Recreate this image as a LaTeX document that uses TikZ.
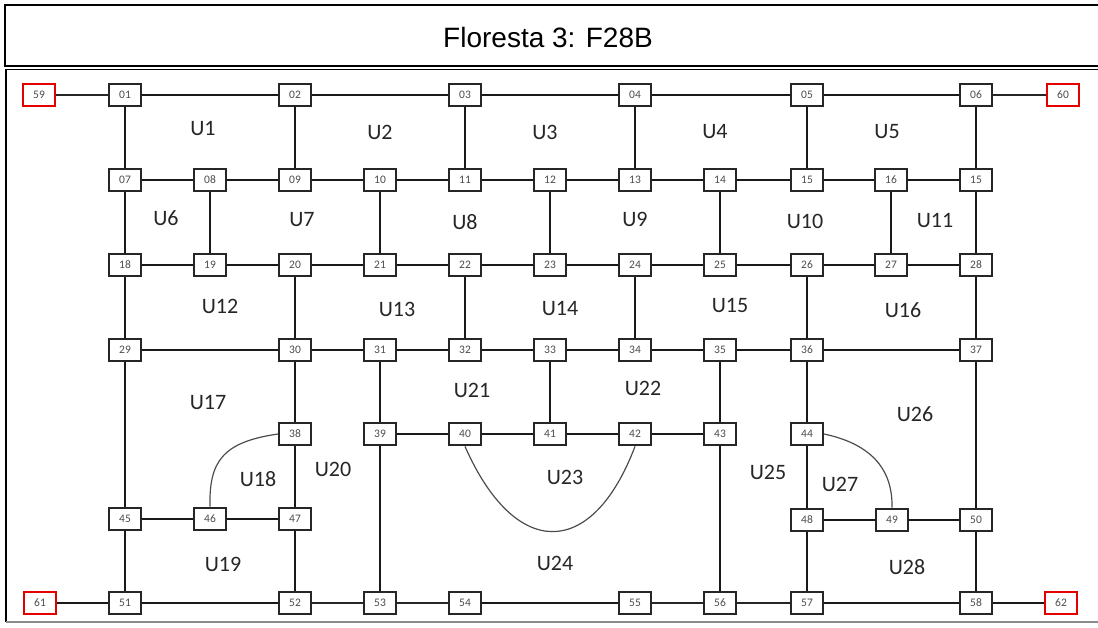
\documentclass[tikz,border=0pt]{standalone}
\usepackage{fontspec}
\setmainfont{Carlito}
\newfontfamily\arialf{Liberation Sans}
\begin{document}
\begin{tikzpicture}[x=1pt,y=-1pt,
  box/.style={draw=black!85,line width=2.3pt,fill=white,minimum width=31.5pt,minimum height=22.5pt,inner sep=0pt,font=\fontsize{11.5}{11.5}\selectfont,text=black!70},
  redbox/.style={box,draw=red!90!black,line width=2pt},
  link/.style={line width=1.9pt,draw=black!90},
  heavylink/.style={line width=2.8pt,draw=black!85},
  arcline/.style={line width=1.2pt,draw=black!70},
  ulab/.style={font=\fontsize{22}{22}\selectfont,text=black!85},
  frame/.style={line width=2pt,draw=black}]
\useasboundingbox (0,0) rectangle (1098,628);
% frame
\draw[frame] (1098,5) -- (5,5) -- (5,66) -- (1098,66);
\draw[line width=1.5pt] (1098,69.5) -- (6,69.5) -- (6,622);
\draw[line width=1.2pt,draw=black!45] (6,622) -- (1098,622);
\node[font=\arialf\fontsize{28}{28}\selectfont] (title) at (548,37) {Floresta 3: F28B};
% row 1
\node[redbox] (n59) at (39,95) {59};
\node[box] (n01) at (125,95) {01};
\node[box] (n02) at (295,95) {02};
\node[box] (n03) at (465,95) {03};
\node[box] (n04) at (635,95) {04};
\node[box] (n05) at (807,95) {05};
\node[box] (n06) at (976,95) {06};
\node[redbox] (n60) at (1063,95) {60};
% row 2
\node[box] (n07) at (125,180) {07};
\node[box] (n08) at (210,180) {08};
\node[box] (n09) at (295,180) {09};
\node[box] (n10) at (380,180) {10};
\node[box] (n11) at (465,180) {11};
\node[box] (n12) at (550,180) {12};
\node[box] (n13) at (635,180) {13};
\node[box] (n14) at (720,180) {14};
\node[box] (n15a) at (807,180) {15};
\node[box] (n16) at (891,180) {16};
\node[box] (n15b) at (976,180) {15};
% row 3
\node[box] (n18) at (125,265) {18};
\node[box] (n19) at (210,265) {19};
\node[box] (n20) at (295,265) {20};
\node[box] (n21) at (380,265) {21};
\node[box] (n22) at (465,265) {22};
\node[box] (n23) at (550,265) {23};
\node[box] (n24) at (635,265) {24};
\node[box] (n25) at (720,265) {25};
\node[box] (n26) at (807,265) {26};
\node[box] (n27) at (891,265) {27};
\node[box] (n28) at (976,265) {28};
% row 4
\node[box] (n29) at (125,350) {29};
\node[box] (n30) at (295,350) {30};
\node[box] (n31) at (380,350) {31};
\node[box] (n32) at (465,350) {32};
\node[box] (n33) at (550,350) {33};
\node[box] (n34) at (635,350) {34};
\node[box] (n35) at (720,350) {35};
\node[box] (n36) at (807,350) {36};
\node[box] (n37) at (976,350) {37};
% row 5
\node[box] (n38) at (295,434) {38};
\node[box] (n39) at (380,434) {39};
\node[box] (n40) at (465,434) {40};
\node[box] (n41) at (550,434) {41};
\node[box] (n42) at (635,434) {42};
\node[box] (n43) at (720,434) {43};
\node[box] (n44) at (807,434) {44};
% row 6
\node[box] (n45) at (125,519) {45};
\node[box] (n46) at (210,519) {46};
\node[box] (n47) at (295,519) {47};
\node[box] (n48) at (807,520) {48};
\node[box] (n49) at (892,520) {49};
\node[box] (n50) at (976,520) {50};
% row 7
\node[redbox] (n61) at (40,603) {61};
\node[box] (n51) at (125,603) {51};
\node[box] (n52) at (295,603) {52};
\node[box] (n53) at (380,603) {53};
\node[box] (n54) at (465,603) {54};
\node[box] (n55) at (635,603) {55};
\node[box] (n56) at (720,603) {56};
\node[box] (n57) at (807,603) {57};
\node[box] (n58) at (976,603) {58};
\node[redbox] (n62) at (1061,603) {62};
% horizontal links
\draw[heavylink] (n59) -- (n01);
\draw[link] (n01) -- (n02);
\draw[link] (n02) -- (n03);
\draw[link] (n03) -- (n04);
\draw[link] (n04) -- (n05);
\draw[link] (n05) -- (n06);
\draw[heavylink] (n06) -- (n60);
\draw[link] (n07) -- (n08);
\draw[link] (n08) -- (n09);
\draw[link] (n09) -- (n10);
\draw[link] (n10) -- (n11);
\draw[link] (n11) -- (n12);
\draw[link] (n12) -- (n13);
\draw[link] (n13) -- (n14);
\draw[link] (n14) -- (n15a);
\draw[link] (n15a) -- (n16);
\draw[link] (n16) -- (n15b);
\draw[link] (n18) -- (n19);
\draw[link] (n19) -- (n20);
\draw[link] (n20) -- (n21);
\draw[link] (n21) -- (n22);
\draw[link] (n22) -- (n23);
\draw[link] (n23) -- (n24);
\draw[link] (n24) -- (n25);
\draw[link] (n25) -- (n26);
\draw[link] (n26) -- (n27);
\draw[link] (n27) -- (n28);
\draw[link] (n29) -- (n30);
\draw[link] (n30) -- (n31);
\draw[link] (n31) -- (n32);
\draw[link] (n32) -- (n33);
\draw[link] (n33) -- (n34);
\draw[link] (n34) -- (n35);
\draw[link] (n35) -- (n36);
\draw[link] (n36) -- (n37);
\draw[link] (n39) -- (n40);
\draw[link] (n40) -- (n41);
\draw[link] (n41) -- (n42);
\draw[link] (n42) -- (n43);
\draw[link] (n45) -- (n46);
\draw[link] (n46) -- (n47);
\draw[link] (n48) -- (n49);
\draw[link] (n49) -- (n50);
\draw[link] (n61) -- (n51);
\draw[link] (n51) -- (n52);
\draw[heavylink] (n52) -- (n53);
\draw[heavylink] (n53) -- (n54);
\draw[link] (n54) -- (n55);
\draw[heavylink] (n55) -- (n56);
\draw[heavylink] (n56) -- (n57);
\draw[link] (n57) -- (n58);
\draw[link] (n58) -- (n62);
% vertical links
\draw[link] (n01) -- (n07);
\draw[link] (n02) -- (n09);
\draw[link] (n03) -- (n11);
\draw[link] (n04) -- (n13);
\draw[link] (n05) -- (n15a);
\draw[link] (n06) -- (n15b);
\draw[link] (n07) -- (n18);
\draw[link] (n08) -- (n19);
\draw[link] (n10) -- (n21);
\draw[link] (n12) -- (n23);
\draw[link] (n14) -- (n25);
\draw[link] (n16) -- (n27);
\draw[link] (n15b) -- (n28);
\draw[link] (n18) -- (n29);
\draw[link] (n20) -- (n30);
\draw[link] (n22) -- (n32);
\draw[link] (n24) -- (n34);
\draw[link] (n26) -- (n36);
\draw[link] (n28) -- (n37);
\draw[link] (n29) -- (n45);
\draw[link] (n30) -- (n38);
\draw[link] (n31) -- (n39);
\draw[link] (n33) -- (n41);
\draw[link] (n35) -- (n43);
\draw[link] (n36) -- (n44);
\draw[link] (n37) -- (n50);
\draw[link] (n38) -- (n47);
\draw[link] (n39) -- (n53);
\draw[link] (n43) -- (n56);
\draw[link] (n44) -- (n48);
\draw[link] (n45) -- (n51);
\draw[link] (n47) -- (n52);
\draw[link] (n48) -- (n57);
\draw[link] (n50) -- (n58);
% curved links
\draw[arcline] (n38.west) .. controls (222,442) and (209,462) .. (n46.north);
\draw[arcline] (n40.south) .. controls (515,560) and (592,560) .. (n42.south);
\draw[arcline] (n44.east) .. controls (862,442) and (893,462) .. (n49.north);
% region labels
\node[ulab] (u1) at (203,129) {U1};
\node[ulab] (u2) at (380,132) {U2};
\node[ulab] (u3) at (545,132) {U3};
\node[ulab] (u4) at (715,132) {U4};
\node[ulab] (u5) at (887,132) {U5};
\node[ulab] (u6) at (166,218) {U6};
\node[ulab] (u7) at (302,220) {U7};
\node[ulab] (u8) at (465,222) {U8};
\node[ulab] (u9) at (635,219) {U9};
\node[ulab] (u10) at (805,221) {U10};
\node[ulab] (u11) at (935,221) {U11};
\node[ulab] (u12) at (220,306) {U12};
\node[ulab] (u13) at (397,309) {U13};
\node[ulab] (u14) at (560,309) {U14};
\node[ulab] (u15) at (730,306) {U15};
\node[ulab] (u16) at (903,310) {U16};
\node[ulab] (u17) at (208,403) {U17};
\node[ulab] (u21) at (472,390) {U21};
\node[ulab] (u22) at (643,388) {U22};
\node[ulab] (u26) at (915,414) {U26};
\node[ulab] (u18) at (258,479) {U18};
\node[ulab] (u20) at (333,469) {U20};
\node[ulab] (u23) at (565,477) {U23};
\node[ulab] (u25) at (768,472) {U25};
\node[ulab] (u27) at (840,484) {U27};
\node[ulab] (u19) at (223,564) {U19};
\node[ulab] (u24) at (555,563) {U24};
\node[ulab] (u28) at (907,567) {U28};
\end{tikzpicture}
\end{document}
